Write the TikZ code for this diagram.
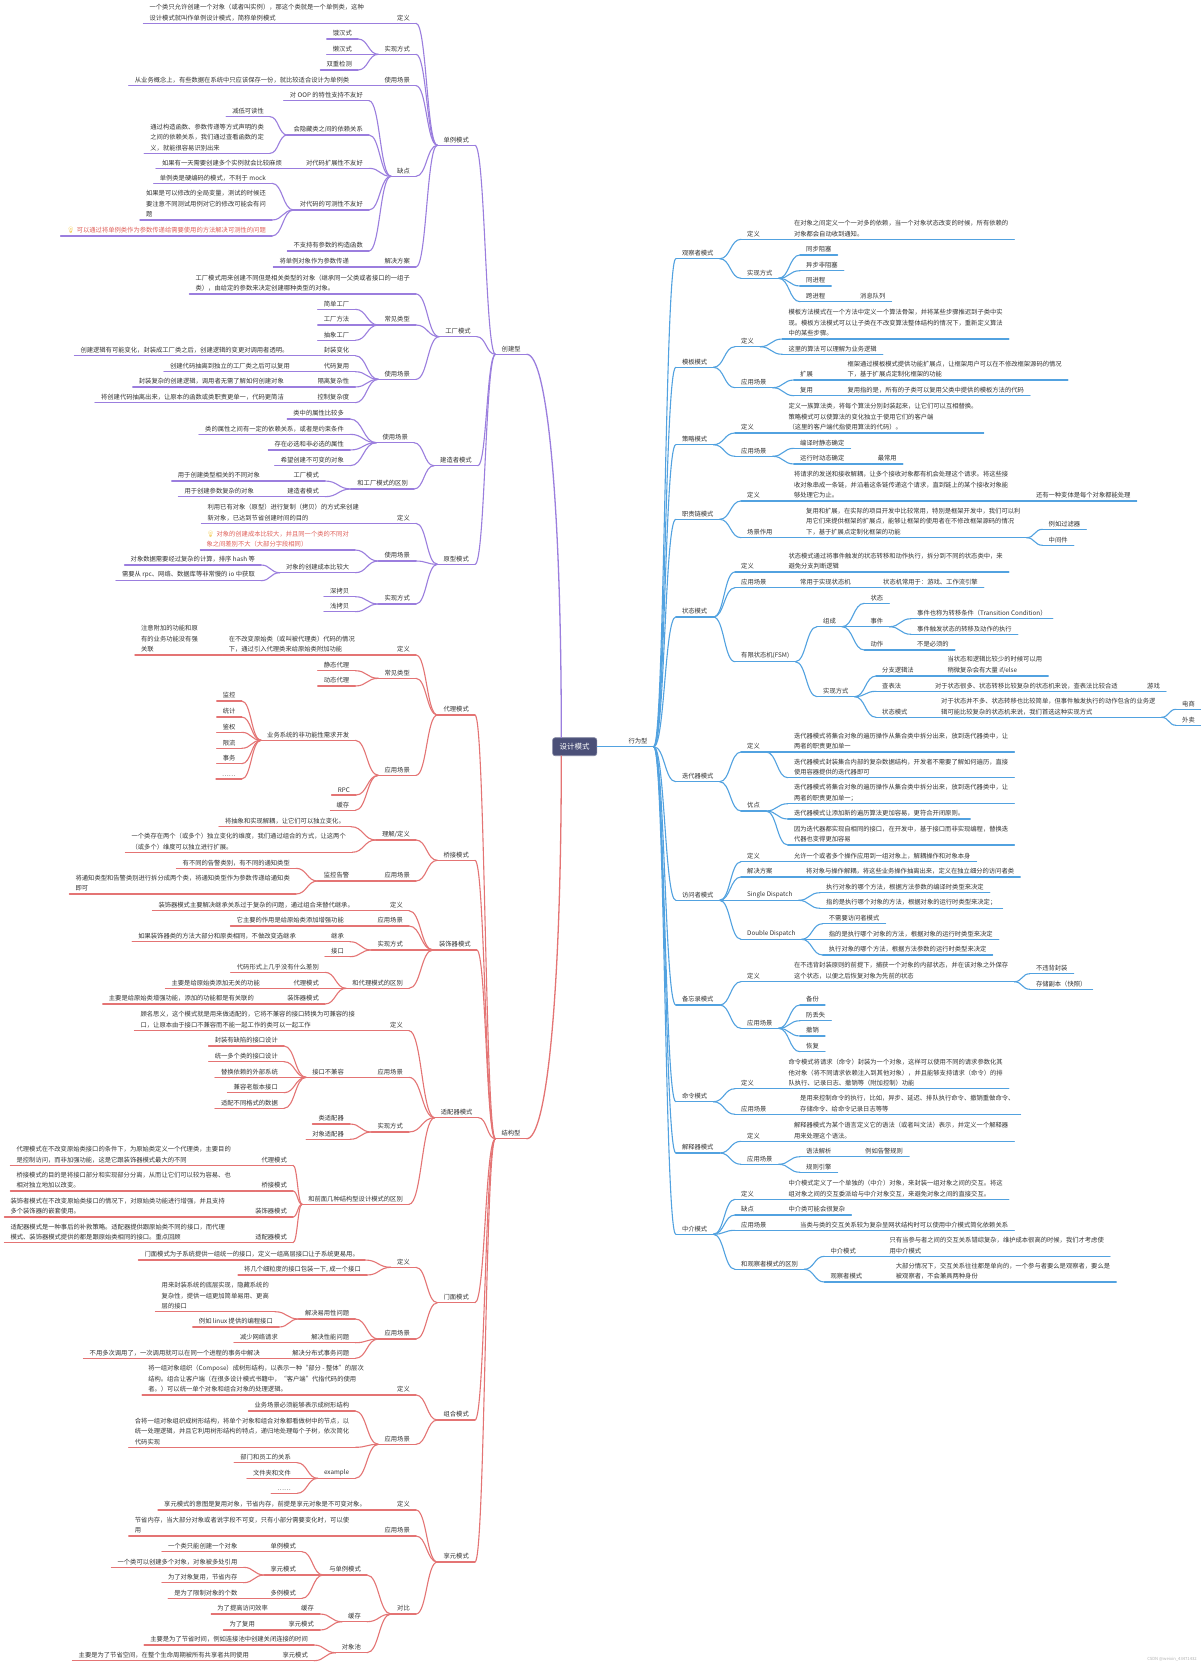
\documentclass[tikz,border=0pt]{standalone}
\usepackage{fontspec}
\usetikzlibrary{calc}
\newfontfamily\cjkf{Noto Sans CJK SC}
\newfontfamily\emof{Noto Emoji}
\definecolor{purp}{HTML}{9B7EDE}
\definecolor{redl}{HTML}{E47474}
\definecolor{blul}{HTML}{52A2E0}
\definecolor{txt}{HTML}{333333}
\definecolor{redtxt}{HTML}{E0605A}
\definecolor{bulbc}{HTML}{F2C230}
\definecolor{ctrfill}{HTML}{4B5078}
\colorlet{cc}{purp}
\newcommand\mmL[5]{\node[lnode] (#1) at (#3,#4) {#5};\draw[uline] (#1.south west) -- (#1.south east);\draw[conn] (#2.south west) to (#1.south east);}
\newcommand\mmR[5]{\node[rnode] (#1) at (#3,#4) {#5};\draw[uline] (#1.south west) -- (#1.south east);\draw[conn] (#2.south east) to (#1.south west);}
\newcommand\bulbicon{{\color{bulbc}\emof 💡}\hspace{2pt}}
\tikzset{
 base/.style={font=\cjkf\fontsize{6.3}{10.5}\selectfont, text=txt, inner xsep=6pt, inner ysep=2.4pt, align=left},
 lnode/.style={base, anchor=south east},
 rnode/.style={base, anchor=south west},
 uline/.style={draw=cc, line width=1.1pt, line cap=round},
 trunk/.style={draw=cc, line width=1.3pt, line cap=round},
 conn/.style={draw=cc, line width=1.1pt, line cap=round, to path={let \p1=(\tikztostart), \p2=(\tikztotarget), \n1={0.5*(\x1+\x2)} in .. controls (\n1,\y1) and (\n1,\y2) .. (\tikztotarget)}},
 ctrbox/.style={fill=ctrfill, draw=ctrfill!70!white, line width=0.6pt, text=white, rounded corners=2.5pt, minimum width=44.2pt, minimum height=18pt, inner sep=0pt, font=\cjkf\fontsize{7.5}{9}\selectfont}
}
\begin{document}
\begin{tikzpicture}[x=1pt,y=-1pt]
\useasboundingbox (0,0) rectangle (1200,1662);
\fill[white] (0,0) rectangle (1200,1662);
\node[ctrbox] (ctr) at (574.7,746.7) {设计模式};

% ================= 创建型 =================
\begin{scope}
\colorlet{cc}{purp}
\node[lnode] (cj) at (526.8,354.3) {创建型};
\draw[uline] (cj.south west) -- (cj.south east);
\draw[trunk] ([xshift=9pt]ctr.north west) .. controls +(0,-240) and +(20,0) .. (cj.south east);
\mmL{a}{cj}{475}{145.3}{单例模式}
\mmL{a1}{a}{416}{23.3}{定义}
\mmL{a1a}{a1}{370}{23.3}{一个类只允许创建一个对象（或者叫实例），那这个类就是一个单例类，这种\\设计模式就叫作单例设计模式，简称单例模式}
\mmL{a2}{a}{416}{54.3}{实现方式}
\mmL{a2a}{a2}{358}{39}{饿汉式}
\mmL{a2b}{a2}{358}{54.3}{懒汉式}
\mmL{a2c}{a2}{358}{70}{双重检测}
\mmL{a3}{a}{416}{85.7}{使用场景}
\mmL{a3a}{a3}{355.3}{85.7}{从业务概念上，有些数据在系统中只应该保存一份，就比较适合设计为单例类}
\mmL{a4}{a}{416}{176.3}{缺点}
\mmL{a4a}{a4}{369}{100.7}{对 OOP 的特性支持不友好}
\mmL{a4b}{a4}{369}{135}{会隐藏类之间的依赖关系}
\mmL{a4b1}{a4b}{270}{116.7}{减低可读性}
\mmL{a4b2}{a4b}{270}{153.3}{通过构造函数、参数传递等方式声明的类\\之间的依赖关系，我们通过查看函数的定\\义，就能很容易识别出来}
\mmL{a4c}{a4}{369}{168.3}{对代码扩展性不友好}
\mmL{a4c1}{a4c}{288}{168.3}{如果有一天需要创建多个实例就会比较麻烦}
\mmL{a4d}{a4}{369}{210}{对代码的可测性不友好}
\mmL{a4d1}{a4d}{272}{183.3}{单例类是硬编码的模式，不利于 mock}
\mmL{a4d2}{a4d}{272}{220}{如果是可以修改的全局变量，测试的时候还\\要注意不同测试用例对它的修改可能会有问\\题}
\mmL{a4d3}{a4d}{272}{236}{\bulbicon\textcolor{redtxt}{可以通过将单例类作为参数传递给需要使用的方法解决可测性的问题}}
\mmL{a4e}{a4}{369}{251}{不支持有参数的构造函数}
\mmL{a5}{a}{416}{267}{解决方案}
\mmL{a5a}{a5}{355}{267}{将单例对象作为参数传递}
\mmL{b}{cj}{476.8}{336.7}{工厂模式}
\mmL{b1}{b}{416}{294}{工厂模式用来创建不同但是相关类型的对象（继承同一父类或者接口的一组子\\类），由给定的参数来决定创建哪种类型的对象。}
\mmL{b2}{b}{416}{325}{常见类型}
\mmL{b2a}{b2}{355.3}{309.3}{简单工厂}
\mmL{b2b}{b2}{355.3}{325}{工厂方法}
\mmL{b2c}{b2}{355.3}{340.3}{抽象工厂}
\mmL{b3}{b}{416}{379.3}{使用场景}
\mmL{b3a}{b3}{355.3}{355.7}{封装变化}
\mmL{b3a1}{b3a}{294.6}{355.7}{创建逻辑有可能变化，封装成工厂类之后，创建逻辑的变更对调用者透明。}
\mmL{b3b}{b3}{355.3}{371.7}{代码复用}
\mmL{b3b1}{b3b}{296}{371.7}{创建代码抽离到独立的工厂类之后可以复用}
\mmL{b3c}{b3}{355.3}{387}{隔离复杂性}
\mmL{b3c1}{b3c}{290}{387}{封装复杂的创建逻辑，调用者无需了解如何创建对象}
\mmL{b3d}{b3}{355.3}{402.7}{控制复杂度}
\mmL{b3d1}{b3d}{290}{402.7}{将创建代码抽离出来，让原本的函数或类职责更单一，代码更简洁}
\mmL{c}{cj}{477.9}{465.7}{建造者模式}
\mmL{c1}{c}{414}{442.7}{使用场景}
\mmL{c1a}{c1}{350}{419}{类中的属性比较多}
\mmL{c1b}{c1}{350}{434.3}{类的属性之间有一定的依赖关系，或者是约束条件}
\mmL{c1c}{c1}{350}{450}{存在必选和非必选的属性}
\mmL{c1d}{c1}{350}{465.7}{希望创建不可变的对象}
\mmL{c2}{c}{414}{489}{和工厂模式的区别}
\mmL{c2a}{c2}{325}{481}{工厂模式}
\mmL{c2a1}{c2a}{266}{481}{用于创建类型相关的不同对象}
\mmL{c2b}{c2}{325}{496.7}{建造者模式}
\mmL{c2b1}{c2b}{260}{496.7}{用于创建参数复杂的对象}
\mmL{d}{cj}{475}{564.3}{原型模式}
\mmL{d1}{d}{416}{523.3}{定义}
\mmL{d1a}{d1}{365}{523.3}{利用已有对象（原型）进行复制（拷贝）的方式来创建\\新对象，已达到节省创建时间的目的}
\mmL{d2}{d}{416}{561}{使用场景}
\mmL{d2a}{d2}{355}{550}{\bulbicon\textcolor{redtxt}{对象的创建成本比较大，并且同一个类的不同对}\\\textcolor{redtxt}{象之间差别不大（大部分字段相同）}}
\mmL{d2b}{d2}{355.3}{572.7}{对象的创建成本比较大}
\mmL{d2b1}{d2b}{261}{565}{对象数据需要经过复杂的计算，排序 hash 等}
\mmL{d2b2}{d2b}{261}{580.7}{需要从 rpc、网络、数据库等非常慢的 io 中获取}
\mmL{d3}{d}{416}{604}{实现方式}
\mmL{d3a}{d3}{355.3}{596.7}{深拷贝}
\mmL{d3b}{d3}{355.3}{611.7}{浅拷贝}
\end{scope}

% ================= 结构型 =================
\begin{scope}
\colorlet{cc}{redl}
\node[lnode] (jg) at (526.7,1138.7) {结构型};
\draw[uline] (jg.south west) -- (jg.south east);
\draw[trunk] ([xshift=9pt]ctr.south west) .. controls +(0,240) and +(20,0) .. (jg.south east);
\mmL{e}{jg}{475}{715}{代理模式}
\mmL{e1}{e}{416}{655}{定义}
\mmL{e1a}{e1}{361}{655}{在不改变原始类（或叫被代理类）代码的情况\\下，通过引入代理类来给原始类附加功能}
\mmL{e1a1}{e1a}{204}{655}{注意附加的功能和原\\有的业务功能没有强\\关联}
\mmL{e2}{e}{416}{678.3}{常见类型}
\mmL{e2a}{e2}{355.3}{670.7}{静态代理}
\mmL{e2b}{e2}{355.3}{686}{动态代理}
\mmL{e3}{e}{416}{775.3}{应用场景}
\mmL{e3a}{e3}{355.3}{740.3}{业务系统的非功能性需求开发}
\mmL{e3a1}{e3a}{241.7}{701}{监控}
\mmL{e3a2}{e3a}{241.7}{717}{统计}
\mmL{e3a3}{e3a}{241.7}{732.3}{鉴权}
\mmL{e3a4}{e3a}{241.7}{748.3}{限流}
\mmL{e3a5}{e3a}{241.7}{763.7}{事务}
\mmL{e3a6}{e3a}{241.7}{779}{……}
\mmL{e3b}{e3}{356}{795}{RPC}
\mmL{e3c}{e3}{355.3}{810.3}{缓存}
\mmL{f}{jg}{475}{860.3}{桥接模式}
\mmL{f1}{f}{416}{840}{理解/定义}
\mmL{f1a}{f1}{351}{826.7}{将抽象和实现解耦，让它们可以独立变化。}
\mmL{f1b}{f1}{352}{852.3}{一个类存在两个（或多个）独立变化的维度，我们通过组合的方式，让这两个\\（或多个）维度可以独立进行扩展。}
\mmL{f2}{f}{416}{881}{应用场景}
\mmL{f2a}{f2}{355.3}{881}{监控告警}
\mmL{f2a1}{f2a}{296}{868.3}{有不同的告警类别，有不同的通知类型}
\mmL{f2a2}{f2a}{296}{894}{将通知类型和告警类别进行拆分成两个类，将通知类型作为参数传递给通知类\\即可}
\mmL{g}{jg}{476.8}{950}{装饰器模式}
\mmL{g1}{g}{409}{910.7}{定义}
\mmL{g1a}{g1}{360}{910.7}{装饰器模式主要解决继承关系过于复杂的问题，通过组合来替代继承。}
\mmL{g2}{g}{409}{926}{应用场景}
\mmL{g2a}{g2}{350}{926}{它主要的作用是给原始类添加增强功能}
\mmL{g3}{g}{409}{950}{实现方式}
\mmL{g3a}{g3}{350}{941.7}{继承}
\mmL{g3a1}{g3a}{302}{941.7}{如果装饰器类的方法大部分和原类相同，不做改变选继承}
\mmL{g3b}{g3}{350}{956.7}{接口}
\mmL{g4}{g}{409}{988.3}{和代理模式的区别}
\mmL{g4a}{g4}{325}{972.3}{代码形式上几乎没有什么差别}
\mmL{g4b}{g4}{325}{988.3}{代理模式}
\mmL{g4b1}{g4b}{266}{988.3}{主要是给原始类添加无关的功能}
\mmL{g4c}{g4}{325}{1004}{装饰器模式}
\mmL{g4c1}{g4c}{260}{1004}{主要是给原始类增强功能，添加的功能都是有关联的}
\mmL{h}{jg}{478.6}{1117.7}{适配器模式}
\mmL{h1}{h}{409}{1030.7}{定义}
\mmL{h1a}{h1}{361}{1030.7}{顾名思义，这个模式就是用来做适配的，它将不兼容的接口转换为可兼容的接\\口，让原本由于接口不兼容而不能一起工作的类可以一起工作}
\mmL{h2}{h}{409}{1077.3}{应用场景}
\mmL{h2a}{h2}{350}{1077.3}{接口不兼容}
\mmL{h2a1}{h2a}{284}{1046}{封装有缺陷的接口设计}
\mmL{h2a2}{h2a}{284}{1061.7}{统一多个类的接口设计}
\mmL{h2a3}{h2a}{284}{1077.3}{替换依赖的外部系统}
\mmL{h2a4}{h2a}{284}{1092.7}{兼容老版本接口}
\mmL{h2a5}{h2a}{284}{1108.3}{适配不同格式的数据}
\mmL{h3}{h}{409}{1132}{实现方式}
\mmL{h3a}{h3}{350}{1124}{类适配器}
\mmL{h3b}{h3}{350}{1139.3}{对象适配器}
\mmL{h4}{h}{409}{1204.3}{和前面几种结构型设计模式的区别}
\mmL{h4a}{h4}{293}{1165.3}{代理模式}
\mmL{h4a1}{h4a}{237}{1165.3}{代理模式在不改变原始类接口的条件下，为原始类定义一个代理类，主要目的\\是控制访问，而非加强功能，这是它跟装饰器模式最大的不同}
\mmL{h4b}{h4}{293}{1191}{桥接模式}
\mmL{h4b1}{h4b}{237}{1191}{桥接模式的目的是将接口部分和实现部分分离，从而让它们可以较为容易、也\\相对独立地加以改变。}
\mmL{h4c}{h4}{293}{1217}{装饰器模式}
\mmL{h4c1}{h4c}{231}{1217}{装饰者模式在不改变原始类接口的情况下，对原始类功能进行增强，并且支持\\多个装饰器的嵌套使用。}
\mmL{h4d}{h4}{293}{1242.7}{适配器模式}
\mmL{h4d1}{h4d}{231}{1242.7}{适配器模式是一种事后的补救策略。适配器提供跟原始类不同的接口，而代理\\模式、装饰器模式提供的都是跟原始类相同的接口。重点回顾}
\mmL{i}{jg}{475}{1302.7}{门面模式}
\mmL{i1}{i}{416}{1267.3}{定义}
\mmL{i1a}{i1}{365}{1260}{门面模式为子系统提供一组统一的接口，定义一组高层接口让子系统更易用。}
\mmL{i1b}{i1}{367}{1275}{将几个细粒度的接口包装一下, 成一个接口}
\mmL{i2}{i}{416}{1339}{应用场景}
\mmL{i2a}{i2}{355.3}{1319}{解决易用性问题}
\mmL{i2a1}{i2a}{275}{1311.7}{用来封装系统的底层实现，隐藏系统的\\复杂性，提供一组更加简单易用、更高\\层的接口}
\mmL{i2a2}{i2a}{279}{1327}{例如 linux 提供的编程接口}
\mmL{i2b}{i2}{355.3}{1342.7}{解决性能问题}
\mmL{i2b1}{i2b}{284}{1342.7}{减少网络请求}
\mmL{i2c}{i2}{355.3}{1358.3}{解决分布式事务问题}
\mmL{i2c1}{i2c}{266}{1358.3}{不用多次调用了，一次调用就可以在同一个进程的事务中解决}
\mmL{j}{jg}{475}{1420}{组合模式}
\mmL{j1}{j}{416}{1395}{定义}
\mmL{j1a}{j1}{370}{1395}{将一组对象组织（Compose）成树形结构，以表示一种“部分 - 整体”的层次\\结构。组合让客户端（在很多设计模式书籍中，“客户端”代指代码的使用\\者。）可以统一单个对象和组合对象的处理逻辑。}
\mmL{j2}{j}{416}{1444.3}{应用场景}
\mmL{j2a}{j2}{355.3}{1411}{业务场景必须能够表示成树形结构}
\mmL{j2b}{j2}{355.3}{1447.3}{合将一组对象组织成树形结构，将单个对象和组合对象都看做树中的节点，以\\统一处理逻辑，并且它利用树形结构的特点，递归地处理每个子树，依次简化\\代码实现}
\mmL{j2c}{j2}{355.3}{1478.3}{example}
\mmL{j2c1}{j2c}{297}{1462.7}{部门和员工的关系}
\mmL{j2c2}{j2c}{297}{1478.3}{文件夹和文件}
\mmL{j2c3}{j2c}{297}{1493.3}{……}
\mmL{k}{jg}{475}{1562}{享元模式}
\mmL{k1}{k}{416}{1510}{定义}
\mmL{k1a}{k1}{372}{1510}{享元模式的意图是复用对象，节省内存，前提是享元对象是不可变对象。}
\mmL{k2}{k}{416}{1536}{应用场景}
\mmL{k2a}{k2}{355.3}{1536}{节省内存，当大部分对象或者说字段不可变，只有小部分需要变化时，可以使\\用}
\mmL{k3}{k}{416}{1614}{对比}
\mmL{k3a}{k3}{367}{1575}{与单例模式}
\mmL{k3a1}{k3a}{302}{1551.7}{单例模式}
\mmL{k3a1a}{k3a1}{243.5}{1551.7}{一个类只能创建一个对象}
\mmL{k3a2}{k3a}{302}{1575}{享元模式}
\mmL{k3a2a}{k3a2}{243.5}{1567.3}{一个类可以创建多个对象，对象被多处引用}
\mmL{k3a2b}{k3a2}{243.5}{1582.7}{为了对象复用，节省内存}
\mmL{k3a3}{k3a}{302}{1598.3}{多例模式}
\mmL{k3a3a}{k3a3}{243.5}{1598.3}{是为了限制对象的个数}
\mmL{k3b}{k3}{367}{1621.7}{缓存}
\mmL{k3b1}{k3b}{320}{1614}{缓存}
\mmL{k3b1a}{k3b1}{274}{1614}{为了提高访问效率}
\mmL{k3b2}{k3b}{320}{1630}{享元模式}
\mmL{k3b2a}{k3b2}{261}{1630}{为了复用}
\mmL{k3c}{k3}{367}{1652.7}{对象池}
\mmL{k3c1}{k3c}{314}{1645}{主要是为了节省时间，例如连接池中创建关闭连接的时间}
\mmL{k3c2}{k3c}{314}{1660.7}{享元模式}
\mmL{k3c2a}{k3c2}{255}{1660.7}{主要是为了节省空间，在整个生命周期被所有共享者共同使用}
\end{scope}

% ================= 行为型 =================
\begin{scope}
\colorlet{cc}{blul}
\node[rnode] (xw) at (622.4,746.7) {行为型};
\draw[uline] (ctr.east) -- (xw.south east);
\mmR{l}{xw}{675.8}{258.7}{观察者模式}
\mmR{l1}{l}{741}{239.3}{定义}
\mmR{l1a}{l1}{787.8}{239.3}{在对象之间定义一个一对多的依赖，当一个对象状态改变的时候，所有依赖的\\对象都会自动收到通知。}
\mmR{l2}{l}{741}{278.3}{实现方式}
\mmR{l2a}{l2}{800}{255}{同步阻塞}
\mmR{l2b}{l2}{800}{270.7}{异步非阻塞}
\mmR{l2c}{l2}{800}{286}{同进程}
\mmR{l2d}{l2}{800}{301.7}{跨进程}
\mmR{l2d1}{l2d}{854}{301.7}{消息队列}
\mmR{m}{xw}{675.8}{367.3}{模板模式}
\mmR{m1}{m}{735}{346.7}{定义}
\mmR{m1a}{m1}{782.3}{339}{模板方法模式在一个方法中定义一个算法骨架，并将某些步骤推迟到子类中实\\现。模板方法模式可以让子类在不改变算法整体结构的情况下，重新定义算法\\中的某些步骤。}
\mmR{m1b}{m1}{782.3}{354.3}{这里的算法可以理解为业务逻辑}
\mmR{m2}{m}{735}{387.7}{应用场景}
\mmR{m2a}{m2}{794}{380}{扩展}
\mmR{m2a1}{m2a}{841.3}{380}{框架通过模板模式提供功能扩展点，让框架用户可以在不修改框架源码的情况\\下，基于扩展点定制化框架的功能}
\mmR{m2b}{m2}{794}{395.7}{复用}
\mmR{m2b1}{m2b}{841.3}{395.7}{复用指的是，所有的子类可以复用父类中提供的模板方法的代码}
\mmR{n}{xw}{675.8}{444.7}{策略模式}
\mmR{n1}{n}{735}{433}{定义}
\mmR{n1a}{n1}{782.3}{433}{定义一族算法类，将每个算法分别封装起来，让它们可以互相替换。\\策略模式可以使算法的变化独立于使用它们的客户端\\（这里的客户端代指使用算法的代码）。}
\mmR{n2}{n}{735}{456.3}{应用场景}
\mmR{n2a}{n2}{794}{448.3}{编译时静态确定}
\mmR{n2b}{n2}{794}{464}{运行时动态确定}
\mmR{n2b1}{n2b}{871.6}{464}{最常用}
\mmR{o}{xw}{675.8}{519.3}{职责链模式}
\mmR{o1}{o}{741}{501}{定义}
\mmR{o1a}{o1}{787.8}{501}{将请求的发送和接收解耦，让多个接收对象都有机会处理这个请求。将这些接\\收对象串成一条链，并沿着这条链传递这个请求，直到链上的某个接收对象能\\够处理它为止。}
\mmR{o1a1}{o1a}{1029.8}{501}{还有一种变体是每个对象都能处理}
\mmR{o2}{o}{741}{537.7}{场景作用}
\mmR{o2a}{o2}{800}{537.7}{复用和扩展，在实际的项目开发中比较常用，特别是框架开发中，我们可以利\\用它们来提供框架的扩展点，能够让框架的使用者在不修改框架源码的情况\\下，基于扩展点定制化框架的功能}
\mmR{o2a1}{o2a}{1042.5}{529.3}{例如过滤器}
\mmR{o2a2}{o2a}{1042.5}{545.3}{中间件}
\mmR{p}{xw}{675.8}{617}{状态模式}
\mmR{p1}{p}{735}{572}{定义}
\mmR{p1a}{p1}{782.3}{572}{状态模式通过将事件触发的状态转移和动作执行，拆分到不同的状态类中，来\\避免分支判断逻辑}
\mmR{p2}{p}{735}{587.7}{应用场景}
\mmR{p2a}{p2}{794}{587.7}{常用于实现状态机}
\mmR{p2a1}{p2a}{877}{587.7}{状态机常用于：游戏、工作流引擎}
\mmR{p3}{p}{735}{661.7}{有限状态机(FSM)}
\mmR{p3a}{p3}{817}{626.7}{组成}
\mmR{p3a1}{p3a}{864.4}{603.3}{状态}
\mmR{p3a2}{p3a}{864.4}{626.7}{事件}
\mmR{p3a2a}{p3a2}{911}{618.7}{事件也称为转移条件（Transition Condition）}
\mmR{p3a2b}{p3a2}{911}{634.3}{事件触发状态的转移及动作的执行}
\mmR{p3a3}{p3a}{864.4}{650}{动作}
\mmR{p3a3a}{p3a3}{911}{650}{不是必须的}
\mmR{p3b}{p3}{817}{696.7}{实现方式}
\mmR{p3b1}{p3b}{876}{676}{分支逻辑法}
\mmR{p3b1a}{p3b1}{941.4}{676}{当状态和逻辑比较少的时候可以用\\稍微复杂会有大量 if/else}
\mmR{p3b2}{p3b}{876}{691.3}{查表法}
\mmR{p3b2a}{p3b2}{928.8}{691.3}{对于状态很多、状态转移比较复杂的状态机来说，查表法比较合适}
\mmR{p3b2a1}{p3b2a}{1141}{691.3}{游戏}
\mmR{p3b3}{p3b}{876}{717.3}{状态模式}
\mmR{p3b3a}{p3b3}{935}{717.3}{对于状态并不多、状态转移也比较简单，但事件触发执行的动作包含的业务逻\\辑可能比较复杂的状态机来说，我们首选这种实现方式}
\mmR{p3b3a1}{p3b3a}{1176}{709.3}{电商}
\mmR{p3b3a2}{p3b3a}{1176}{725.3}{外卖}
\mmR{q}{xw}{675.8}{781.7}{迭代器模式}
\mmR{q1}{q}{741}{752}{定义}
\mmR{q1a}{q1}{787.8}{752}{迭代器模式将集合对象的遍历操作从集合类中拆分出来，放到迭代器类中，让\\两者的职责更加单一}
\mmR{q1b}{q1}{787.8}{777.7}{迭代器模式封装集合内部的复杂数据结构，开发者不需要了解如何遍历，直接\\使用容器提供的迭代器即可}
\mmR{q2}{q}{741}{811}{优点}
\mmR{q2a}{q2}{787.8}{803.7}{迭代器模式将集合对象的遍历操作从集合类中拆分出来，放到迭代器类中，让\\两者的职责更加单一；}
\mmR{q2b}{q2}{787.8}{819}{迭代器模式让添加新的遍历算法更加容易，更符合开闭原则。}
\mmR{q2c}{q2}{787.8}{845}{因为迭代器都实现自相同的接口，在开发中，基于接口而非实现编程，替换迭\\代器也变得更加容易}
\mmR{r}{xw}{675.8}{900.3}{访问者模式}
\mmR{r1}{r}{741}{861.7}{定义}
\mmR{r1a}{r1}{787.8}{861.7}{允许一个或者多个操作应用到一组对象上，解耦操作和对象本身}
\mmR{r2}{r}{741}{877}{解决方案}
\mmR{r2a}{r2}{800}{877}{将对象与操作解耦，将这些业务操作抽离出来，定义在独立细分的访问者类}
\mmR{r3}{r}{741}{900.3}{Single Dispatch}
\mmR{r3a}{r3}{820}{892.7}{执行对象的哪个方法，根据方法参数的编译时类型来决定}
\mmR{r3b}{r3}{820}{908.3}{指的是执行哪个对象的方法，根据对象的运行时类型来决定；}
\mmR{r4}{r}{741}{939.3}{Double Dispatch}
\mmR{r4a}{r4}{822.7}{923.7}{不需要访问者模式}
\mmR{r4b}{r4}{822.7}{939.3}{指的是执行哪个对象的方法，根据对象的运行时类型来决定}
\mmR{r4c}{r4}{822.7}{955}{执行对象的哪个方法，根据方法参数的运行时类型来决定}
\mmR{s}{xw}{675.8}{1005}{备忘录模式}
\mmR{s1}{s}{741}{981.7}{定义}
\mmR{s1a}{s1}{787.8}{981.7}{在不违背封装原则的前提下，捕获一个对象的内部状态，并在该对象之外保存\\这个状态，以便之后恢复对象为先前的状态}
\mmR{s1a1}{s1a}{1029.8}{973.7}{不违背封装}
\mmR{s1a2}{s1a}{1029.8}{989.3}{存储副本（快照）}
\mmR{s2}{s}{741}{1028.3}{应用场景}
\mmR{s2a}{s2}{800}{1005}{备份}
\mmR{s2b}{s2}{800}{1020.7}{防丢失}
\mmR{s2c}{s2}{800}{1036}{撤销}
\mmR{s2d}{s2}{800}{1051.7}{恢复}
\mmR{t}{xw}{675.8}{1101.7}{命令模式}
\mmR{t1}{t}{735}{1088.7}{定义}
\mmR{t1a}{t1}{782.3}{1088.7}{命令模式将请求（命令）封装为一个对象，这样可以使用不同的请求参数化其\\他对象（将不同请求依赖注入到其他对象），并且能够支持请求（命令）的排\\队执行、记录日志、撤销等（附加控制）功能}
\mmR{t2}{t}{735}{1114.3}{应用场景}
\mmR{t2a}{t2}{794}{1114.3}{是用来控制命令的执行，比如，异步、延迟、排队执行命令、撤销重做命令、\\存储命令、给命令记录日志等等}
\mmR{u}{xw}{675.8}{1153}{解释器模式}
\mmR{u1}{u}{741}{1141.3}{定义}
\mmR{u1a}{u1}{787.8}{1141.3}{解释器模式为某个语言定义它的语法（或者叫文法）表示，并定义一个解释器\\用来处理这个语法。}
\mmR{u2}{u}{741}{1164.3}{应用场景}
\mmR{u2a}{u2}{800}{1156.7}{语法解析}
\mmR{u2a1}{u2a}{859}{1156.7}{例如告警规则}
\mmR{u2b}{u2}{800}{1172.3}{规则引擎}
\mmR{v}{xw}{675.8}{1234.3}{中介模式}
\mmR{v1}{v}{735}{1199.3}{定义}
\mmR{v1a}{v1}{782.3}{1199.3}{中介模式定义了一个单独的（中介）对象，来封装一组对象之间的交互。将这\\组对象之间的交互委派给与中介对象交互，来避免对象之间的直接交互。}
\mmR{v2}{v}{735}{1215}{缺点}
\mmR{v2a}{v2}{782.3}{1215}{中介类可能会很复杂}
\mmR{v3}{v}{735}{1230.3}{应用场景}
\mmR{v3a}{v3}{794}{1230.3}{当类与类的交互关系较为复杂呈网状结构时可以使用中介模式简化依赖关系}
\mmR{v4}{v}{735}{1269.3}{和观察者模式的区别}
\mmR{v4a}{v4}{824.4}{1256.3}{中介模式}
\mmR{v4a1}{v4a}{883.4}{1256.3}{只有当参与者之间的交互关系错综复杂，维护成本很高的时候，我们才考虑使\\用中介模式}
\mmR{v4b}{v4}{824.4}{1282}{观察者模式}
\mmR{v4b1}{v4b}{889.7}{1282}{大部分情况下，交互关系往往都是单向的，一个参与者要么是观察者，要么是\\被观察者，不会兼具两种身份}
\end{scope}

\node[font=\cjkf\fontsize{4.2}{5}\selectfont, text=black!30, anchor=south east, inner sep=0pt] (wm) at (1197,1661) {CSDN @weixin\_43471432};
\end{tikzpicture}
\end{document}
